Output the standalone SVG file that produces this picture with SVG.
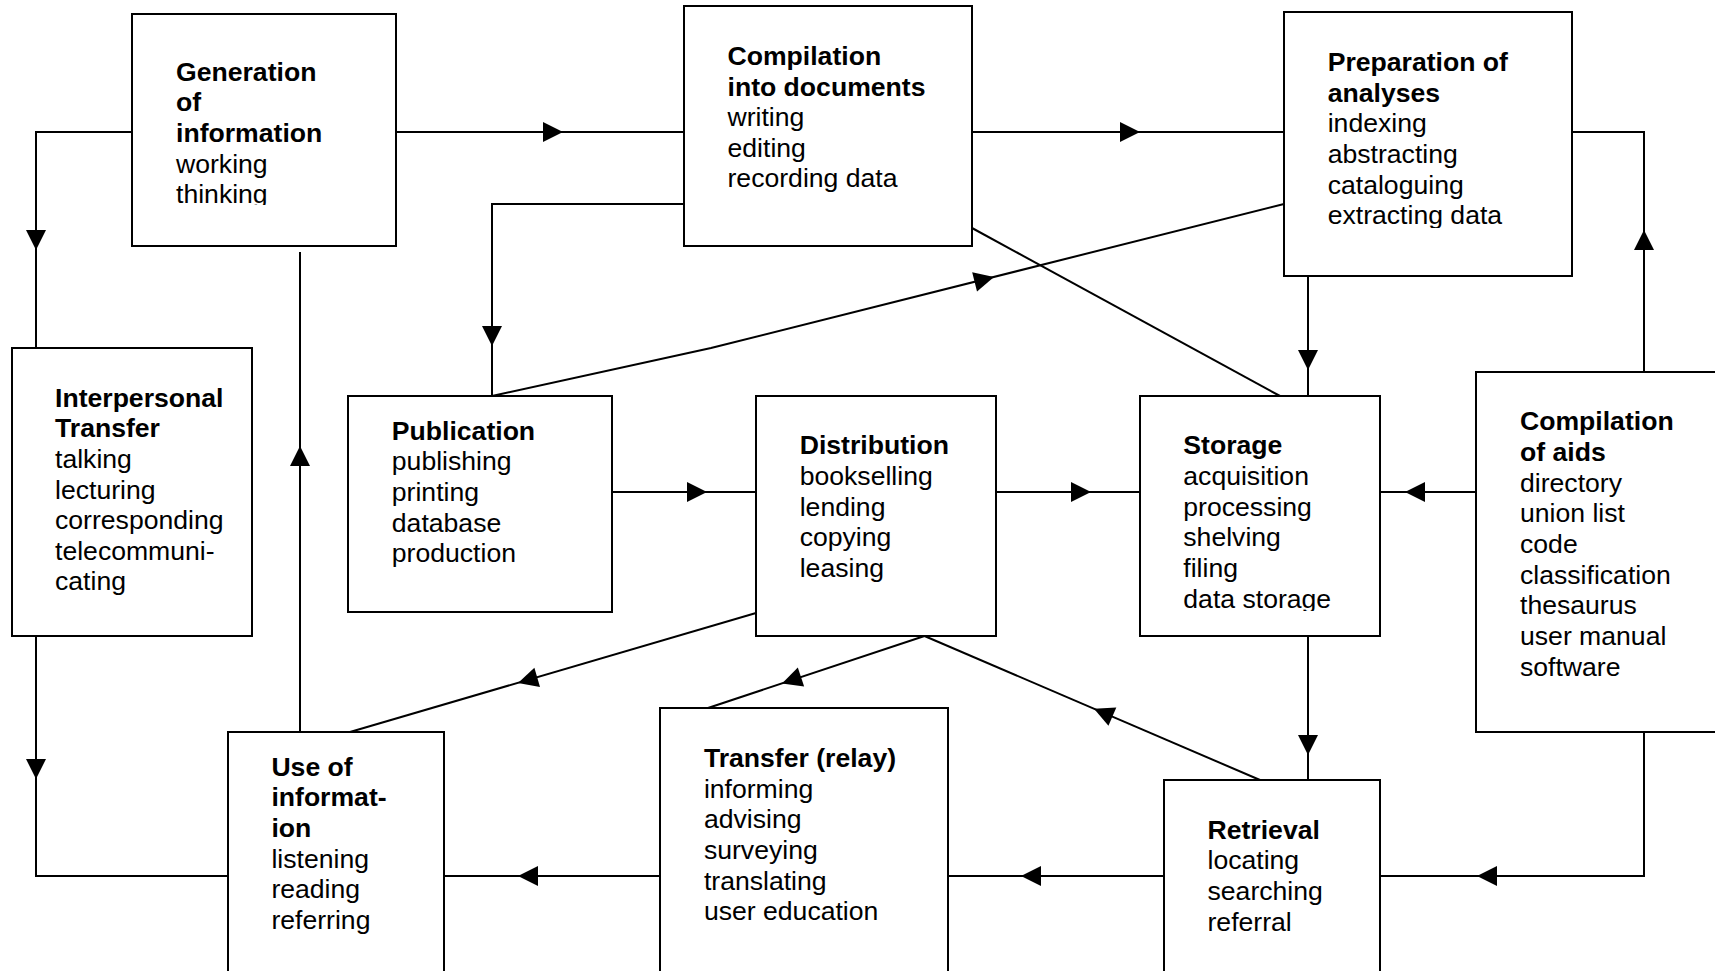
<svg xmlns="http://www.w3.org/2000/svg" xmlns:xlink="http://www.w3.org/1999/xlink" width="1715" height="971" viewBox="0 0 1715 971">
<style>
.box{fill:#fff;stroke:#000;stroke-width:2}
.c{fill:none;stroke:#000;stroke-width:2}
.t{font-family:"Liberation Sans",Arial,Helvetica,sans-serif;font-size:26.6px;fill:#000}
.b{font-weight:bold}
</style>
<defs>
<polygon id="ah" points="0,0 -20,-10 -20,10" fill="#000"/>
<clipPath id="clipGen"><rect x="130" y="0" width="270" height="205"/></clipPath>
<clipPath id="clipPrep"><rect x="1280" y="0" width="300" height="228"/></clipPath>
<clipPath id="clipSto"><rect x="1138" y="390" width="250" height="221"/></clipPath>
</defs>
<rect width="1715" height="971" fill="#fff"/>
<g id="connectors">
<path class="c" d="M396,132 H684"/>
<path class="c" d="M972,132 H1284"/>
<path class="c" d="M132,132 H36 V348"/>
<path class="c" d="M36,636 V876 H228"/>
<path class="c" d="M300,732 V252"/>
<path class="c" d="M684,204 H492 V396"/>
<path class="c" d="M492,396 L711,348 L1284,204"/>
<path class="c" d="M972,228 L1280,396"/>
<path class="c" d="M1308,276 V396"/>
<path class="c" d="M1572,132 H1644 V372"/>
<path class="c" d="M612,492 H756"/>
<path class="c" d="M996,492 H1140"/>
<path class="c" d="M1476,492 H1380"/>
<path class="c" d="M1308,636 V780"/>
<path class="c" d="M1644,732 V876 H1380"/>
<path class="c" d="M1164,876 H948"/>
<path class="c" d="M660,876 H444"/>
<path class="c" d="M756,613 L350,732"/>
<path class="c" d="M924.5,636 L708,708"/>
<path class="c" d="M1260,780 L924.5,636"/>
<use xlink:href="#ah" transform="translate(563,132)"/>
<use xlink:href="#ah" transform="translate(1140,132)"/>
<use xlink:href="#ah" transform="translate(36,250) rotate(90)"/>
<use xlink:href="#ah" transform="translate(36,779) rotate(90)"/>
<use xlink:href="#ah" transform="translate(300,446) rotate(-90)"/>
<use xlink:href="#ah" transform="translate(492,346) rotate(90)"/>
<use xlink:href="#ah" transform="translate(994,277) rotate(-14.1)"/>
<use xlink:href="#ah" transform="translate(1308,370) rotate(90)"/>
<use xlink:href="#ah" transform="translate(1644,230) rotate(-90)"/>
<use xlink:href="#ah" transform="translate(707,492)"/>
<use xlink:href="#ah" transform="translate(1091,492)"/>
<use xlink:href="#ah" transform="translate(1405,492) rotate(180)"/>
<use xlink:href="#ah" transform="translate(1308,755) rotate(90)"/>
<use xlink:href="#ah" transform="translate(1477,876) rotate(180)"/>
<use xlink:href="#ah" transform="translate(1021,876) rotate(180)"/>
<use xlink:href="#ah" transform="translate(518,876) rotate(180)"/>
<use xlink:href="#ah" transform="translate(518,683) rotate(163.66)"/>
<use xlink:href="#ah" transform="translate(782,683.4) rotate(161.6)"/>
<use xlink:href="#ah" transform="translate(1094,708.8) rotate(203.2)"/>
</g>
<g id="generation">
<rect class="box" x="132" y="14" width="264" height="232"/>
<text class="t" clip-path="url(#clipGen)"><tspan class="b" x="176" y="80.5">Generation</tspan><tspan class="b" x="176" y="111.2">of</tspan><tspan class="b" x="176" y="141.8">information</tspan><tspan x="176" y="172.5">working</tspan><tspan x="176" y="203.1">thinking</tspan></text>
</g>
<g id="compilation-documents">
<rect class="box" x="684" y="6" width="288" height="240"/>
<text class="t"><tspan class="b" x="727.5" y="64.8">Compilation</tspan><tspan class="b" x="727.5" y="95.5">into documents</tspan><tspan x="727.5" y="126.1">writing</tspan><tspan x="727.5" y="156.8">editing</tspan><tspan x="727.5" y="187.4">recording data</tspan></text>
</g>
<g id="preparation-analyses">
<rect class="box" x="1284" y="12" width="288" height="264"/>
<text class="t" clip-path="url(#clipPrep)"><tspan class="b" x="1327.7" y="71">Preparation of</tspan><tspan class="b" x="1327.7" y="101.7">analyses</tspan><tspan x="1327.7" y="132.3">indexing</tspan><tspan x="1327.7" y="163">abstracting</tspan><tspan x="1327.7" y="193.6">cataloguing</tspan><tspan x="1327.7" y="224.3">extracting data</tspan></text>
</g>
<g id="interpersonal-transfer">
<rect class="box" x="12" y="348" width="240" height="288"/>
<text class="t"><tspan class="b" x="55" y="406.5">Interpersonal</tspan><tspan class="b" x="55" y="437.2">Transfer</tspan><tspan x="55" y="467.8">talking</tspan><tspan x="55" y="498.5">lecturing</tspan><tspan x="55" y="529.1">corresponding</tspan><tspan x="55" y="559.8">telecommuni-</tspan><tspan x="55" y="590.4">cating</tspan></text>
</g>
<g id="publication">
<rect class="box" x="348" y="396" width="264" height="216"/>
<text class="t"><tspan class="b" x="391.8" y="439.5">Publication</tspan><tspan x="391.8" y="470.2">publishing</tspan><tspan x="391.8" y="500.8">printing</tspan><tspan x="391.8" y="531.5">database</tspan><tspan x="391.8" y="562.1">production</tspan></text>
</g>
<g id="distribution">
<rect class="box" x="756" y="396" width="240" height="240"/>
<text class="t"><tspan class="b" x="799.7" y="454.3">Distribution</tspan><tspan x="799.7" y="485">bookselling</tspan><tspan x="799.7" y="515.6">lending</tspan><tspan x="799.7" y="546.3">copying</tspan><tspan x="799.7" y="576.9">leasing</tspan></text>
</g>
<g id="storage">
<rect class="box" x="1140" y="396" width="240" height="240"/>
<text class="t" clip-path="url(#clipSto)"><tspan class="b" x="1183.3" y="454.3">Storage</tspan><tspan x="1183.3" y="485">acquisition</tspan><tspan x="1183.3" y="515.6">processing</tspan><tspan x="1183.3" y="546.3">shelving</tspan><tspan x="1183.3" y="576.9">filing</tspan><tspan x="1183.3" y="607.6">data storage</tspan></text>
</g>
<g id="compilation-aids">
<rect class="box" x="1476" y="372" width="250" height="360"/>
<text class="t"><tspan class="b" x="1520" y="430.3">Compilation</tspan><tspan class="b" x="1520" y="461">of aids</tspan><tspan x="1520" y="491.6">directory</tspan><tspan x="1520" y="522.3">union list</tspan><tspan x="1520" y="552.9">code</tspan><tspan x="1520" y="583.6">classification</tspan><tspan x="1520" y="614.2">thesaurus</tspan><tspan x="1520" y="644.9">user manual</tspan><tspan x="1520" y="675.5">software</tspan></text>
</g>
<g id="use-information">
<rect class="box" x="228" y="732" width="216" height="260"/>
<text class="t"><tspan class="b" x="271.4" y="775.5">Use of</tspan><tspan class="b" x="271.4" y="806.2">informat-</tspan><tspan class="b" x="271.4" y="836.8">ion</tspan><tspan x="271.4" y="867.5">listening</tspan><tspan x="271.4" y="898.1">reading</tspan><tspan x="271.4" y="928.8">referring</tspan></text>
</g>
<g id="transfer-relay">
<rect class="box" x="660" y="708" width="288" height="284"/>
<text class="t"><tspan class="b" x="703.9" y="767">Transfer (relay)</tspan><tspan x="703.9" y="797.7">informing</tspan><tspan x="703.9" y="828.3">advising</tspan><tspan x="703.9" y="859">surveying</tspan><tspan x="703.9" y="889.6">translating</tspan><tspan x="703.9" y="920.3">user education</tspan></text>
</g>
<g id="retrieval">
<rect class="box" x="1164" y="780" width="216" height="212"/>
<text class="t"><tspan class="b" x="1207.5" y="838.5">Retrieval</tspan><tspan x="1207.5" y="869.2">locating</tspan><tspan x="1207.5" y="899.8">searching</tspan><tspan x="1207.5" y="930.5">referral</tspan></text>
</g>
</svg>
